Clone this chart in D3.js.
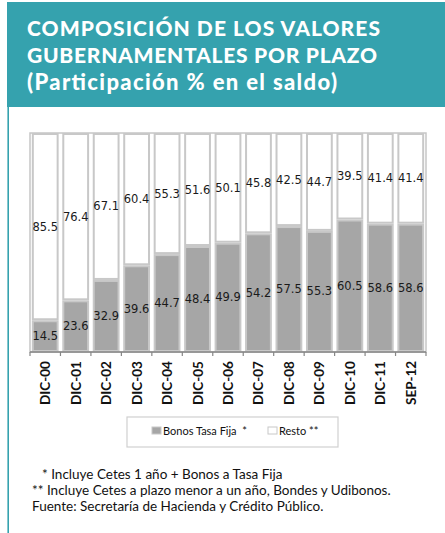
<!DOCTYPE html>
<html><head><meta charset="utf-8">
<script src="https://cdn.jsdelivr.net/npm/d3@7/dist/d3.min.js"></script>
<style>html,body{margin:0;padding:0;background:#fff;}svg{display:block;}</style>
</head><body>
<script>
const categories = ["DIC-00","DIC-01","DIC-02","DIC-03","DIC-04","DIC-05","DIC-06","DIC-07","DIC-08","DIC-09","DIC-10","DIC-11","SEP-12"];
const bonos = [14.5,23.6,32.9,39.6,44.7,48.4,49.9,54.2,57.5,55.3,60.5,58.6,58.6];
const resto = [85.5,76.4,67.1,60.4,55.3,51.6,50.1,45.8,42.5,44.7,39.5,41.4,41.4];
const seriesNames = ["Bonos Tasa Fija  *","Resto **"];
const titleLines = ["COMPOSICIÓN DE LOS VALORES","GUBERNAMENTALES POR PLAZO","(Participación  % en el saldo)"];
const notes = ["* Incluye Cetes 1 año + Bonos a Tasa Fija","** Incluye Cetes a plazo menor a un año, Bondes y Udibonos.","Fuente: Secretaría de Hacienda y Crédito Público."];

const W = 445, H = 533;
const teal = "#35a2ae";
const svg = d3.select("body").append("svg").attr("width", W).attr("height", H);

// title box & left rule
svg.append("rect").attr("x", 7).attr("y", 2).attr("width", W - 7).attr("height", 105).attr("fill", teal);
svg.append("line").attr("x1", 8.2).attr("x2", 8.2).attr("y1", 107).attr("y2", H).attr("stroke", teal).attr("stroke-width", 1.6);
const tl = svg.append("g").attr("font-family", "Lato, 'Open Sans', sans-serif").attr("font-weight", 900).attr("fill", "#fff");
const tlY = [36, 63, 90], tlW = [353, 350, 310];
titleLines.forEach((t, i) => {
  tl.append("text").attr("x", 27).attr("y", tlY[i]).attr("font-size", i === 2 ? 22 : 21)
    .attr("textLength", tlW[i]).attr("lengthAdjust", "spacing").text(t);
});

// plot
const m = {left: 30, right: 426, top: 133, bottom: 352};
const x = d3.scaleBand().domain(categories).range([m.left, m.right]).paddingInner(0.12).paddingOuter(0.06);
const y = d3.scaleLinear().domain([0, 100]).range([m.bottom, m.top]);

const stackData = categories.map((c, i) => ({cat: c, bonos: bonos[i], resto: resto[i]}));
const stack = d3.stack().keys(["bonos", "resto"])(stackData);
const fills = {bonos: "#a6a6a6", resto: "#ffffff"};

svg.append("rect").attr("x", m.left).attr("y", m.top).attr("width", m.right - m.left).attr("height", m.bottom - m.top)
  .attr("fill", "none").attr("stroke", "#c6c6c6").attr("stroke-width", 1.5);

stack.forEach(layer => {
  const g = svg.append("g");
  g.selectAll("rect").data(layer).join("rect")
    .attr("x", d => x(d.data.cat) + 1)
    .attr("width", x.bandwidth() - 2)
    .attr("y", d => y(d[1]) + 1)
    .attr("height", d => y(d[0]) - y(d[1]) - 2)
    .attr("fill", fills[layer.key])
    .attr("stroke", "#c8c8c8").attr("stroke-width", 2);
  g.selectAll("text").data(layer).join("text")
    .attr("x", d => x(d.data.cat) + x.bandwidth() / 2)
    .attr("y", d => (y(d[0]) + y(d[1])) / 2 + 4)
    .attr("text-anchor", "middle")
    .attr("font-family", "'DejaVu Sans', sans-serif").attr("font-size", 11.5).attr("fill", "#1a1a1a")
    .text(d => d3.format(".1f")(d[1] - d[0]));
});

// x axis
const xb = d3.scaleBand().domain(categories).range([m.left, m.right]);
const ax = svg.append("g").attr("transform", `translate(0,${m.bottom})`);
ax.append("line").attr("x1", m.left).attr("x2", m.right).attr("stroke", "#868686").attr("stroke-width", 1.5);
const ticks = categories.map(c => xb(c)).concat([m.right]);
ax.selectAll("line.t").data(ticks).join("line").attr("class", "t")
  .attr("x1", d => d).attr("x2", d => d).attr("y1", 0).attr("y2", 4).attr("stroke", "#868686").attr("stroke-width", 1.2);
ax.selectAll("text").data(categories).join("text")
  .attr("transform", d => `translate(${xb(d) + xb.bandwidth() / 2 + 5},${53}) rotate(-90)`)
  .attr("font-family", "Lato, sans-serif").attr("font-weight", "bold").attr("font-size", 13.5).attr("fill", "#111")
  .text(d => d);

// legend
svg.append("rect").attr("x", 127).attr("y", 417).attr("width", 211).attr("height", 30)
  .attr("fill", "#fff").attr("stroke", "#d0d0d0").attr("stroke-width", 1.2);
const legX = [152, 268], legT = [163, 279];
seriesNames.forEach((s, i) => {
  svg.append("rect").attr("x", legX[i]).attr("y", 427).attr("width", 9).attr("height", 7)
    .attr("fill", i === 0 ? "#a6a6a6" : "#fff").attr("stroke", "#c8c8c8").attr("stroke-width", 1);
  svg.append("text").attr("x", legT[i]).attr("y", 435).attr("font-family", "Lato, sans-serif")
    .attr("font-size", 11).attr("fill", "#111").attr("xml:space", "preserve").text(s);
});

// notes
const nX = [42, 32, 32], nY = [479, 495, 511];
notes.forEach((t, i) => {
  svg.append("text").attr("x", nX[i]).attr("y", nY[i]).attr("font-family", "Lato, sans-serif")
    .attr("font-size", 13.5).attr("fill", "#111").text(t);
});
</script>
</body></html>
